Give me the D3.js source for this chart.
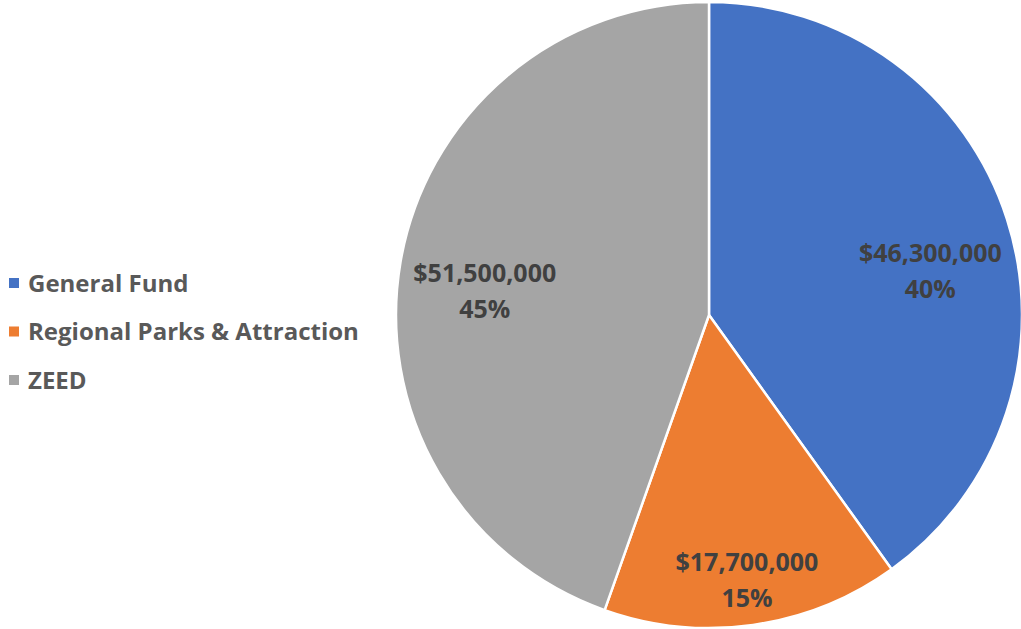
<!DOCTYPE html>
<html>
<head>
<meta charset="utf-8">
<script src="https://cdn.jsdelivr.net/npm/d3@7"></script>
<style>
  body { margin: 0; background: #fff; }
  svg { display: block; }
</style>
</head>
<body>
<div id="chart"></div>
<script>
// data
var categories = ["General Fund", "Regional Parks & Attraction", "ZEED"];
var amounts = [46300000, 17700000, 51500000];
var percentLabels = ["40%", "15%", "45%"];
var colors = ["#4472C4", "#ED7D31", "#A5A5A5"];

var WIDTH = 1021;
var HEIGHT = 629;
var CX = 709;
var CY = 315;
var RADIUS = 313;

// label distance from centre, as a fraction of the radius (Excel "best fit")
var LABEL_RADIUS = [0.72, 0.86, 0.72];
var LABEL_ANGLE_SHIFT = [7, 0, -4];   // degrees, nudges labels like Excel does

var svg = d3.select("#chart")
            .append("svg")
              .attr("width", WIDTH)
              .attr("height", HEIGHT);

var pie = d3.pie()
            .sort(null)
            .value(function (d) { return d; });

var arcs = pie(amounts);

var arc = d3.arc()
            .innerRadius(0)
            .outerRadius(RADIUS);

var pieGroup = svg.append("g")
                  .attr("transform", "translate(" + CX + "," + CY + ")");

pieGroup.selectAll("path")
        .data(arcs)
        .enter()
        .append("path")
          .attr("d", arc)
          .attr("fill", function (d, i) { return colors[i]; })
          .attr("stroke", "#fff")
          .attr("stroke-width", 2.5)
          .attr("stroke-linejoin", "round");

// data labels
var fmt = d3.format("$,");
var labels = pieGroup.selectAll("text.lbl")
        .data(arcs)
        .enter()
        .append("text")
          .attr("class", "lbl")
          .attr("text-anchor", "middle")
          .attr("font-family", "'Open Sans', sans-serif")
          .attr("font-weight", "bold")
          .attr("font-size", 25)
          .attr("fill", "#404040")
          .attr("transform", function (d, i) {
            var a = (d.startAngle + d.endAngle) / 2 + LABEL_ANGLE_SHIFT[i] * Math.PI / 180;
            var r = RADIUS * LABEL_RADIUS[i];
            return "translate(" + (r * Math.sin(a)) + "," + (-r * Math.cos(a)) + ")";
          });

labels.append("tspan")
      .attr("x", 0)
      .attr("y", -10.5)
      .text(function (d) { return fmt(d.data); });

labels.append("tspan")
      .attr("x", 0)
      .attr("y", 25.5)
      .text(function (d, i) { return percentLabels[i]; });

// legend
var legendY = d3.scalePoint()
                .domain(categories)
                .range([283, 380]);

var legend = svg.append("g");

var items = legend.selectAll("g")
                  .data(categories)
                  .enter()
                  .append("g")
                    .attr("transform", function (d) { return "translate(9," + legendY(d) + ")"; });

items.append("rect")
     .attr("x", 0)
     .attr("y", -5)
     .attr("width", 10)
     .attr("height", 10)
     .attr("fill", function (d, i) { return colors[i]; });

items.append("text")
     .attr("x", 19)
     .attr("y", 8.5)
     .attr("font-family", "'Open Sans', sans-serif")
     .attr("font-weight", "bold")
     .attr("font-size", 24)
     .attr("fill", "#595959")
     .text(function (d) { return d; });
</script>
</body>
</html>
